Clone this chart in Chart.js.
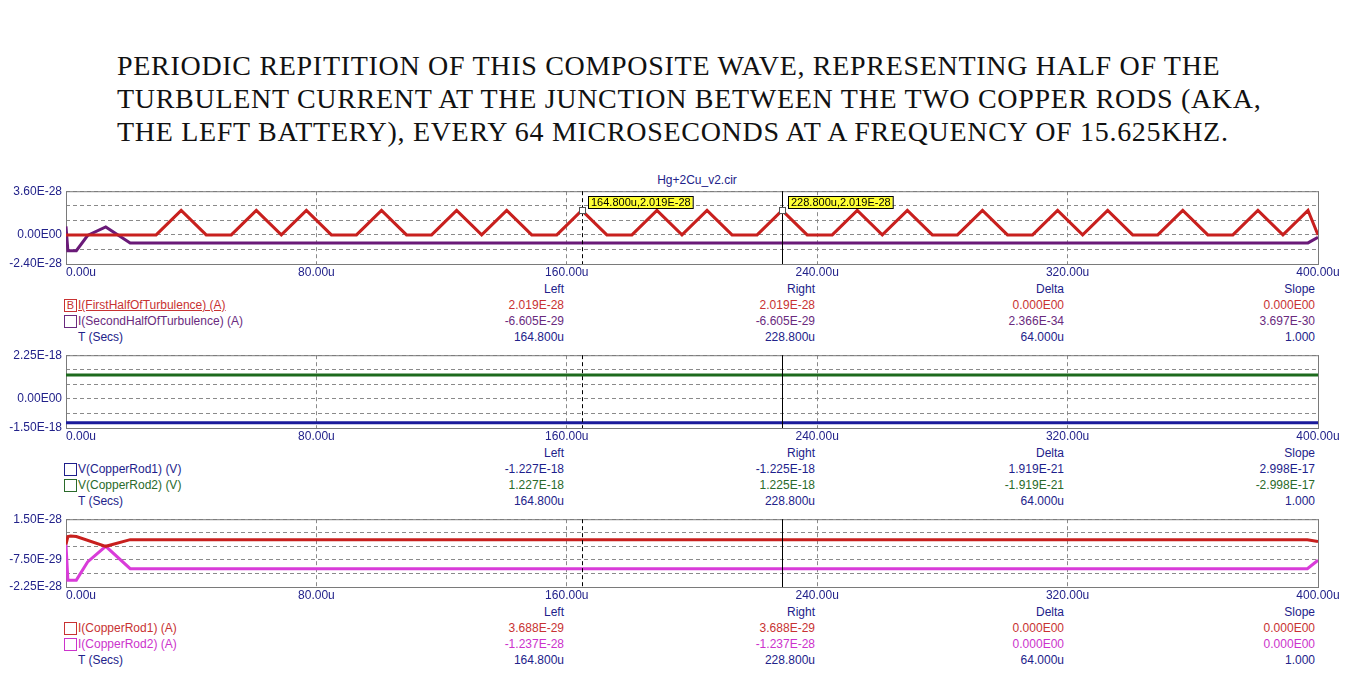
<!DOCTYPE html>
<html>
<head>
<meta charset="utf-8">
<script src="https://cdn.jsdelivr.net/npm/chart.js@4.4.0/dist/chart.umd.min.js"></script>
<style>
body{margin:0;background:#fff;width:1353px;height:681px;overflow:hidden;position:relative;font-family:"Liberation Sans",Arial,sans-serif;}
#title{position:absolute;left:117px;top:49px;font-family:"Liberation Serif","Times New Roman",serif;font-size:28px;line-height:33px;letter-spacing:0.7px;color:#111;white-space:nowrap;}
#file{position:absolute;left:0;width:1394px;top:173px;text-align:center;font-size:12px;color:#22228a;}
.wrap{position:absolute;left:0;width:1353px;}
.t{position:absolute;font-size:12px;line-height:14px;white-space:nowrap;}
.col{width:120px;text-align:right;}
.box{position:absolute;width:11px;height:11px;border:1px solid;font-size:11px;line-height:11px;text-align:center;}
</style>
</head>
<body>
<div id="title">PERIODIC REPITITION OF THIS COMPOSITE WAVE, REPRESENTING HALF OF THE<br>TURBULENT CURRENT AT THE JUNCTION BETWEEN THE TWO COPPER RODS (AKA,<br>THE LEFT BATTERY), EVERY 64 MICROSECONDS AT A FREQUENCY OF 15.625KHZ.</div>
<div id="file">Hg+2Cu_v2.cir</div>
<div class="wrap" style="top:180px;height:100px"><canvas id="c1"></canvas></div>
<div class="wrap" style="top:344px;height:100px"><canvas id="c2"></canvas></div>
<div class="wrap" style="top:508px;height:95px"><canvas id="c3"></canvas></div>
<div id="legends"></div>
<script>
// --- time axis (microseconds) ---
const timeTicks = [0, 80, 160, 240, 320, 400];
const timeTickLabels = ["0.00u", "80.00u", "160.00u", "240.00u", "320.00u", "400.00u"];
const cursorLeft = 164.8;
const cursorRight = 228.8;

// --- panel 1: turbulence currents ---
const firstHalfT = [0, 28.8, 36.8, 44.8, 52.8, 60.8, 68.8, 76.8, 84.8, 92.8, 100.8, 108.8, 116.8, 124.8, 132.8, 140.8,
  148.8, 156.8, 164.8, 172.8, 180.8, 188.8, 196.8, 204.8, 212.8, 220.8, 228.8, 236.8, 244.8, 252.8, 260.8, 268.8,
  276.8, 284.8, 292.8, 300.8, 308.8, 316.8, 324.8, 332.8, 340.8, 348.8, 356.8, 364.8, 372.8, 380.8, 388.8, 396.8, 400];
const firstHalfI = [0, 0, 2.019e-28, 0, 0, 2.019e-28, 0, 2.019e-28, 0, 0, 2.019e-28, 0, 0, 2.019e-28, 0, 2.019e-28,
  0, 0, 2.019e-28, 0, 0, 2.019e-28, 0, 2.019e-28, 0, 0, 2.019e-28, 0, 0, 2.019e-28, 0, 2.019e-28,
  0, 0, 2.019e-28, 0, 0, 2.019e-28, 0, 2.019e-28, 0, 0, 2.019e-28, 0, 0, 2.019e-28, 0, 2.019e-28, 0];
const secondHalfT = [0, 0.6, 3.3, 6.9, 12.7, 20.5, 396.8, 400];
const secondHalfI = [0.7e-28, -1.3e-28, -1.3e-28, -0.05e-28, 0.65e-28, -6.605e-29, -6.605e-29, -0.2e-28];
const y1Ticks = [-2.4e-28, -1.2e-28, 0, 1.2e-28, 2.4e-28, 3.6e-28];
const y1Labels = ["-2.40E-28", "", "0.00E00", "", "", "3.60E-28"];

// --- panel 2: copper rod voltages ---
const rod1VT = [0, 216.8, 216.8, 400];
const rod1V = [-1.227e-18, -1.227e-18, -1.225e-18, -1.225e-18];
const rod2VT = [0, 216.8, 216.8, 400];
const rod2V = [1.227e-18, 1.227e-18, 1.225e-18, 1.225e-18];
const y2Ticks = [-1.5e-18, -0.75e-18, 0, 0.75e-18, 1.5e-18, 2.25e-18];
const y2Labels = ["-1.50E-18", "", "0.00E00", "", "", "2.25E-18"];

// --- panel 3: copper rod currents ---
const rod1IT = [0, 0.6, 1.5, 3.3, 12.7, 20.5, 396.6, 400];
const rod1I = [0.1e-28, 0.54e-28, 0.57e-28, 0.54e-28, 0, 3.688e-29, 3.688e-29, 0.27e-28];
const rod2IT = [0, 0.6, 3.3, 6.9, 12.7, 20.5, 396.6, 400];
const rod2I = [0.1e-28, -1.87e-28, -1.87e-28, -0.86e-28, 0, -1.237e-28, -1.237e-28, -0.77e-28];
const y3Ticks = [-2.25e-28, -1.5e-28, -0.75e-28, 0, 0.75e-28, 1.5e-28];
const y3Labels = ["-2.25E-28", "", "-7.50E-29", "", "", "1.50E-28"];

// --- cursor readouts ---
const colHeads = ["Left", "Right", "Delta", "Slope"];
const timeRow = ["164.800u", "228.800u", "64.000u", "1.000"];
const firstHalfRead = ["2.019E-28", "2.019E-28", "0.000E00", "0.000E00"];
const secondHalfRead = ["-6.605E-29", "-6.605E-29", "2.366E-34", "3.697E-30"];
const rod1VRead = ["-1.227E-18", "-1.225E-18", "1.919E-21", "2.998E-17"];
const rod2VRead = ["1.227E-18", "1.225E-18", "-1.919E-21", "-2.998E-17"];
const rod1IRead = ["3.688E-29", "3.688E-29", "0.000E00", "0.000E00"];
const rod2IRead = ["-1.237E-28", "-1.237E-28", "0.000E00", "0.000E00"];

const NAVY = "#22228a";
const GRID = "#8a8a8a";

const pts = (t, v) => t.map((x, i) => ({ x: x, y: v[i] }));

const frame = {
  id: "frame",
  beforeDatasetsDraw(chart) {
    const a = chart.chartArea, ctx = chart.ctx;
    ctx.save();
    ctx.strokeStyle = "#7a7a7a";
    ctx.lineWidth = 1;
    ctx.strokeRect(a.left + 0.5, a.top + 0.5, a.right - a.left, a.bottom - a.top);
    ctx.restore();
  },
  afterDatasetsDraw(chart) {
    const a = chart.chartArea, ctx = chart.ctx, xs = chart.scales.x;
    ctx.save();
    ctx.strokeStyle = "#000";
    ctx.lineWidth = 1;
    let px = Math.round(xs.getPixelForValue(cursorLeft)) + 0.5;
    ctx.setLineDash([4, 3]);
    ctx.beginPath(); ctx.moveTo(px, a.top); ctx.lineTo(px, a.bottom); ctx.stroke();
    px = Math.round(xs.getPixelForValue(cursorRight)) + 0.5;
    ctx.setLineDash([]);
    ctx.beginPath(); ctx.moveTo(px, a.top); ctx.lineTo(px, a.bottom); ctx.stroke();
    // time tick labels
    ctx.fillStyle = NAVY;
    ctx.font = "12px 'Liberation Sans', Arial";
    ctx.textBaseline = "top";
    timeTicks.forEach((t, i) => {
      const x = xs.getPixelForValue(t);
      ctx.textAlign = i === 0 ? "left" : "center";
      ctx.fillText(timeTickLabels[i], x, a.bottom + 3);
    });
    ctx.restore();
  }
};

const tags = {
  id: "tags",
  afterDraw(chart) {
    const ctx = chart.ctx, xs = chart.scales.x, ys = chart.scales.y;
    ctx.save();
    ctx.font = "11px 'Liberation Sans', Arial";
    ctx.textBaseline = "middle";
    ctx.textAlign = "left";
    [[cursorLeft, "164.800u,2.019E-28"], [cursorRight, "228.800u,2.019E-28"]].forEach(([t, txt]) => {
      const px = Math.round(xs.getPixelForValue(t));
      const py = Math.round(ys.getPixelForValue(2.019e-28));
      ctx.fillStyle = "#fff";
      ctx.strokeStyle = "#555";
      ctx.lineWidth = 1;
      ctx.fillRect(px - 3, py - 3, 7, 7);
      ctx.strokeRect(px - 3 + 0.5, py - 3 + 0.5, 6, 6);
      const w = ctx.measureText(txt).width + 5;
      ctx.fillStyle = "#ffff33";
      ctx.fillRect(px + 6, py - 14, w, 12);
      ctx.strokeStyle = "#000";
      ctx.strokeRect(px + 6.5, py - 13.5, w, 12);
      ctx.fillStyle = "#000";
      ctx.fillText(txt, px + 9, py - 7.5);
    });
    ctx.restore();
  }
};

function makeChart(id, datasets, yMin, yMax, yTicks, yLabels, extra) {
  return new Chart(document.getElementById(id), {
    type: "scatter",
    data: { datasets: datasets },
    options: {
      responsive: true,
      maintainAspectRatio: false,
      animation: false,
      events: [],
      layout: { padding: { top: 10, right: 35, left: 0, bottom: 0 } },
      plugins: { legend: { display: false }, tooltip: { enabled: false } },
      scales: {
        x: {
          type: "linear", min: 0, max: 400,
          afterBuildTicks: s => { s.ticks = timeTicks.map(v => ({ value: v })); },
          afterFit: s => { s.height = 16; },
          ticks: { display: false },
          grid: { color: GRID, drawTicks: false },
          border: { display: false, dash: [4, 3] }
        },
        y: {
          min: yMin, max: yMax,
          afterBuildTicks: s => { s.ticks = yTicks.map(v => ({ value: v })); },
          afterFit: s => { s.width = 66; },
          ticks: {
            color: NAVY, padding: 4, autoSkip: false,
            font: { family: "'Liberation Sans', Arial", size: 12 },
            callback: (v, i) => yLabels[i]
          },
          grid: { color: GRID, drawTicks: false },
          border: { display: false, dash: [4, 3] }
        }
      }
    },
    plugins: extra
  });
}

function line(t, v, color) {
  return { data: pts(t, v), showLine: true, borderColor: color, borderWidth: 3, pointRadius: 0, tension: 0, fill: false };
}

makeChart("c1", [line(firstHalfT, firstHalfI, "#c8201e"), line(secondHalfT, secondHalfI, "#6a1a78")],
  -2.4e-28, 3.6e-28, y1Ticks, y1Labels, [frame, tags]);
makeChart("c2", [line(rod2VT, rod2V, "#1d6a1d"), line(rod1VT, rod1V, "#1a1a9a")],
  -1.5e-18, 2.25e-18, y2Ticks, y2Labels, [frame]);
makeChart("c3", [line(rod1IT, rod1I, "#c8201e"), line(rod2IT, rod2I, "#d93cd9")],
  -2.25e-28, 1.5e-28, y3Ticks, y3Labels, [frame]);

// cursor readout tables
const colRight = [564, 815, 1064, 1315];
const legends = document.getElementById("legends");
function text(str, left, top, color, cls, extraStyle) {
  const d = document.createElement("div");
  d.className = "t " + (cls || "");
  d.textContent = str;
  d.style.left = left + "px";
  d.style.top = top + "px";
  d.style.color = color;
  if (extraStyle) d.setAttribute("style", d.getAttribute("style") + extraStyle);
  legends.appendChild(d);
}
function table(y0, rows) {
  colHeads.forEach((h, i) => text(h, colRight[i] - 120, y0 - 7, NAVY, "col"));
  rows.forEach((r, k) => {
    const y = y0 + 16 * (k + 1);
    if (r.box) {
      const b = document.createElement("div");
      b.className = "box";
      b.style.left = "64px";
      b.style.top = (y - 6) + "px";
      b.style.borderColor = r.color;
      b.style.color = r.color;
      b.textContent = r.mark || "";
      legends.appendChild(b);
    }
    text(r.name, 78, y - 7, r.color, "", r.under ? "text-decoration:underline;" : "");
    r.vals.forEach((v, i) => text(v, colRight[i] - 120, y - 7, r.color, "col"));
  });
}
table(289, [
  { name: "I(FirstHalfOfTurbulence) (A)", color: "#c83232", box: true, mark: "B", under: true, vals: firstHalfRead },
  { name: "I(SecondHalfOfTurbulence) (A)", color: "#6a2a7e", box: true, vals: secondHalfRead },
  { name: "T (Secs)", color: NAVY, vals: timeRow }
]);
table(453, [
  { name: "V(CopperRod1) (V)", color: "#1e1e8c", box: true, vals: rod1VRead },
  { name: "V(CopperRod2) (V)", color: "#2a6a2a", box: true, vals: rod2VRead },
  { name: "T (Secs)", color: NAVY, vals: timeRow }
]);
table(612, [
  { name: "I(CopperRod1) (A)", color: "#c83232", box: true, vals: rod1IRead },
  { name: "I(CopperRod2) (A)", color: "#cc33cc", box: true, vals: rod2IRead },
  { name: "T (Secs)", color: NAVY, vals: timeRow }
]);
</script>
</body>
</html>
